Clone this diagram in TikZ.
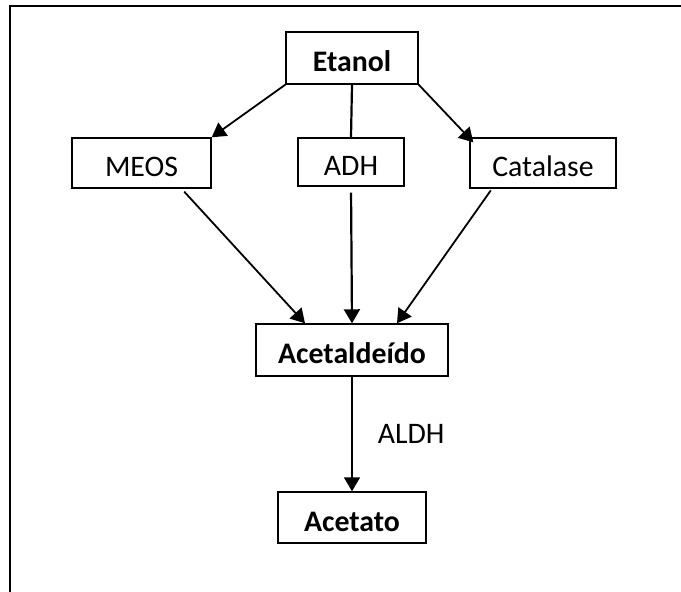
\documentclass[tikz,border=0pt]{standalone}
\usepackage{fontspec}
\setmainfont{Carlito}
\usetikzlibrary{arrows.meta,positioning}

\tikzset{
    box/.style={draw, line width=0.7pt, inner sep=0pt, text height=13.6pt, text depth=0pt,
        font=\fontsize{14.9}{18}\selectfont},
    bbox/.style={box, font=\fontsize{14.9}{18}\selectfont\bfseries},
    conn/.style={line width=0.9pt},
    frame/.style={line width=1.2pt}
}

\begin{document}
\begin{tikzpicture}[x=0.5pt, y=-0.5pt, >={Triangle[length=7pt, width=8pt]}]
    \useasboundingbox (0,0) rectangle (681,592);
    % Frame
    \draw[frame] (681,6) -| (10,592);

    % Boxes
    \node[bbox, minimum width=66pt, minimum height=26pt] (etanol) at (352,58) {Etanol};
    \node[box, minimum width=69.5pt, minimum height=25pt] (meos) at (141.5,163) {MEOS};
    \node[box, minimum width=53pt, minimum height=24pt] (adh) at (351,162) {ADH};
    \node[box, minimum width=73pt, minimum height=25pt] (catalase) at (543,163) {Catalase};
    \node[bbox, minimum width=96pt, minimum height=26pt] (acetal) at (352,350) {Acetaldeído};
    \node[bbox, minimum width=74pt, minimum height=25.5pt] (acetato) at (352,517.5) {Acetato};

    % Connectors
    \draw[->, conn] (etanol.south west) -- (meos.north east);
    \draw[conn, line width=1.1pt] (etanol.south) -- (adh.north);
    \draw[->, conn] (etanol.south east) -- ([xshift=2pt, yshift=-2.5pt]catalase.north west);
    \draw[->, conn, shorten <=2pt] ([xshift=20pt]meos.south) -- ([xshift=-23.5pt]acetal.north);
    \draw[->, conn, line width=1.1pt, shorten <=3pt] (adh.south) -- (acetal.north);
    \draw[->, conn, shorten <=1pt] ([xshift=-25.5pt]catalase.south) -- ([xshift=22.5pt]acetal.north);
    \draw[->, conn] (acetal.south) -- (acetato.north)
        node[midway, right=12.5pt, inner sep=0pt, font=\fontsize{14.9}{18}\selectfont] (aldh) {ALDH};
\end{tikzpicture}
\end{document}
